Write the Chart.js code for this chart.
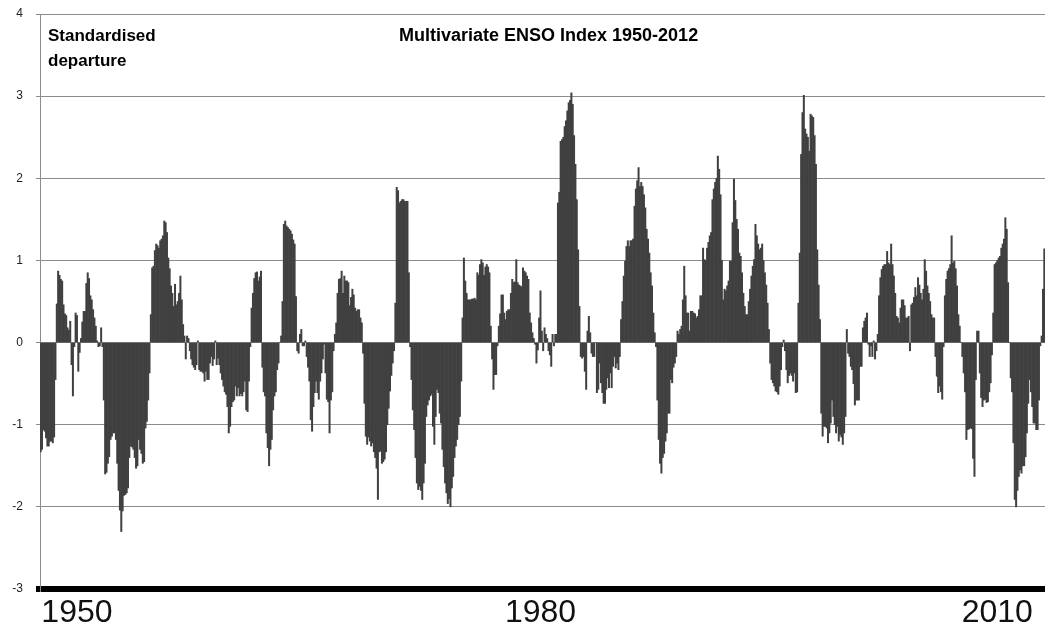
<!DOCTYPE html>
<html>
<head>
<meta charset="utf-8">
<title>Multivariate ENSO Index 1950-2012</title>
<script src="https://cdn.jsdelivr.net/npm/chart.js@4.4.1/dist/chart.umd.min.js"></script>
<style>
  html, body { margin: 0; padding: 0; background: #fff; }
  #wrap { width: 1045px; height: 633px; }
</style>
</head>
<body>
<div id="wrap"><canvas id="meiChart"></canvas></div>
<script>
// monthly MEI, one row per year, starting January 1950
const startYear = 1950;

const mei1950s = [
  -1.33, -1.30, -1.06, -1.08, -1.16, -1.26, -1.26, -1.20, -1.20, -1.22, -1.15, -0.45,
   0.47,  0.87,  0.82,  0.77,  0.75,  0.46,  0.35,  0.33,  0.18,  0.15,  0.26, -0.27,
  -0.65, -0.05,  0.36,  0.33, -0.35, -0.12,  0.05,  0.25,  0.38,  0.38,  0.72,  0.85,
   0.78,  0.57,  0.52,  0.40,  0.30,  0.20,  0.02, -0.05, -0.04,  0.18, -0.05, -0.70,
  -1.60, -1.58, -1.47, -1.39, -1.18, -1.14, -1.10, -1.10, -1.18, -1.47, -1.80, -2.04,
  -2.30, -2.05, -1.86, -1.85, -1.83, -1.77, -1.40, -1.26, -1.27, -1.30, -1.40, -1.53,
  -1.50, -1.18, -1.30, -1.35, -1.47, -1.45, -1.04, -0.96, -0.70, -0.37,  0.34,  0.91,
   0.93,  1.12,  1.20,  1.18,  1.15,  1.24,  1.26,  1.30,  1.48,  1.46,  1.34,  1.03,
   0.90,  0.69,  0.60,  0.44,  0.71,  0.46,  0.50,  0.60,  0.81,  0.52,  0.22,  0.08,
  -0.20,  0.08,  0.05, -0.10, -0.20, -0.27, -0.30, -0.33, -0.27,  0.02, -0.33, -0.35
];

const mei1960s = [
  -0.35, -0.37, -0.47, -0.35, -0.45, -0.45, -0.25, -0.17, -0.28, -0.20,  0.02, -0.27,
  -0.19, -0.27, -0.37, -0.45, -0.53, -0.60, -0.63, -0.78, -1.10, -1.02, -0.78, -0.72,
  -0.70, -0.53, -0.65, -0.55, -0.65, -0.62, -0.65, -0.60, -0.47, -0.82, -0.84, -0.47,
  -0.05,  0.42,  0.60,  0.78,  0.85,  0.86,  0.75,  0.80,  0.87, -0.30, -0.60, -0.65,
  -1.10, -1.28, -1.50, -1.30, -1.18, -0.82, -0.65, -0.60, -0.33, -0.25,  0.00,  0.08,
   0.50,  1.44,  1.48,  1.42,  1.40,  1.38,  1.36,  1.32,  1.25,  1.20,  0.56, -0.10,
  -0.13,  0.10,  0.16, -0.04, -0.04,  0.02, -0.17, -0.30, -0.47, -0.94, -1.08, -0.78,
  -0.61, -0.47, -0.61, -0.69, -0.47, -0.37, -0.20, -0.02, -0.37, -0.69, -0.72, -1.10,
  -0.70, -0.60, -0.10,  0.10,  0.24,  0.60,  0.77,  0.78,  0.87,  0.60,  0.81,  0.75,
   0.75,  0.73,  0.45,  0.55,  0.65,  0.58,  0.42,  0.38,  0.40,  0.40,  0.30,  0.24
];

const mei1970s = [
  -0.13, -0.74, -1.14, -1.24, -1.15, -1.20, -1.26, -1.22, -1.33, -1.40, -1.53, -1.91,
  -1.33, -1.32, -1.47, -1.45, -1.42, -1.33, -1.00, -0.80, -0.59, -0.40, -0.25, -0.10,
   0.48,  1.89,  1.85,  1.70,  1.72,  1.74,  1.74,  1.72,  1.72,  1.72,  0.85, -0.05,
  -0.45, -0.82, -1.06, -1.40, -1.71, -1.79, -1.75, -1.80, -1.91, -1.71, -1.47, -0.90,
  -0.76, -0.70, -0.65, -0.63, -1.02, -1.24, -0.90, -0.57, -0.61, -0.86, -0.98, -1.30,
  -1.51, -1.71, -1.83, -1.96, -1.90, -2.00, -1.77, -1.63, -1.40, -1.26, -1.18, -1.00,
  -0.90, -0.47,  0.30,  1.03,  0.75,  0.60,  0.52,  0.52,  0.52,  0.53,  0.53,  0.54,
   0.52,  0.85,  0.82,  0.95,  1.01,  0.97,  0.82,  0.92,  0.95,  0.92,  0.85,  0.20,
  -0.20, -0.57, -0.39, -0.39, -0.04,  0.20,  0.35,  0.58,  0.58,  0.36,  0.28,  0.38,
   0.40,  0.40,  0.60,  0.77,  0.73,  0.74,  1.01,  0.73,  0.70,  0.69,  0.68,  0.91
];

const mei1980s = [
   0.87,  0.85,  0.81,  0.77,  0.36,  0.24,  0.12,  0.05, -0.02, -0.25, -0.09,  0.30,
   0.63,  0.14, -0.10,  0.18,  0.10,  0.05, -0.10, -0.15, -0.29,  0.10, -0.04,  0.10,
   0.10,  1.70,  1.83,  2.45,  2.47,  2.50,  2.63,  2.70,  2.82,  2.92,  2.95,  3.04,
   2.90,  2.52,  2.17,  1.74,  1.13,  0.44, -0.17, -0.19, -0.17, -0.35, -0.57,  0.14,
   0.32,  0.12, -0.13, -0.17, -0.17,  0.00, -0.61, -0.57, -0.25, -0.49, -0.61, -0.74,
  -0.74, -0.57, -0.43, -0.55, -0.37, -0.55, -0.29, -0.17, -0.31, -0.25, -0.33, -0.17,
   0.28,  0.50,  0.81,  0.99,  1.17,  1.24,  1.17,  1.24,  1.24,  1.26,  1.66,  1.87,
   1.97,  2.13,  1.90,  1.95,  1.90,  1.80,  1.64,  1.38,  1.26,  1.09,  0.85,  0.69,
   0.36,  0.12, -0.05, -0.70, -1.18, -1.47, -1.59, -1.40, -1.35, -1.20, -1.10, -0.86,
  -0.86, -0.45, -0.49, -0.30, -0.25, -0.17,  0.14,  0.10,  0.16,  0.20,  0.52,  0.93
];

const mei1990s = [
   0.57,  0.36,  0.36,  0.14,  0.38,  0.38,  0.36,  0.35,  0.30,  0.32,  0.40,  0.57,
   0.57,  1.15,  1.01,  1.00,  1.15,  1.22,  1.30,  1.34,  1.74,  1.87,  1.95,  2.00,
   2.27,  2.11,  1.80,  1.00,  0.52,  0.65,  0.63,  0.69,  0.75,  0.99,  0.99,  1.46,
   1.99,  1.73,  1.50,  1.38,  1.09,  1.05,  0.85,  0.60,  0.44,  0.34,  0.34,  0.50,
   0.65,  0.81,  0.93,  1.01,  1.44,  1.30,  1.20,  1.13,  1.15,  1.20,  1.00,  0.85,
   0.70,  0.48,  0.16, -0.25, -0.45, -0.49, -0.53, -0.59, -0.60, -0.63, -0.53, -0.33,
  -0.05,  0.03, -0.10, -0.33, -0.49, -0.40, -0.37, -0.40, -0.47, -0.37, -0.61, -0.60,
   0.48,  1.09,  2.29,  2.80,  3.01,  2.60,  2.54,  2.50,  2.33,  2.78,  2.76,  2.74,
   2.52,  2.17,  1.13,  0.70,  0.28, -0.86, -1.14, -1.02, -1.02, -1.04, -1.22, -1.10,
  -0.98, -0.70, -0.90, -1.00, -1.10, -1.02, -1.20, -1.12, -1.15, -1.24, -1.10, -0.90
];

const mei2000s = [
   0.16, -0.13, -0.17, -0.29, -0.33, -0.50, -0.76, -0.70, -0.70, -0.70, -0.29, -0.29,
   0.18,  0.26,  0.30,  0.36, -0.02, -0.17, -0.04, -0.17,  0.02, -0.20, -0.10,  0.10,
   0.57,  0.79,  0.89,  0.93,  0.95,  0.95,  1.11,  0.97,  0.95,  1.20,  0.95,  0.81,
   0.60,  0.32,  0.30,  0.24,  0.42,  0.52,  0.52,  0.45,  0.30,  0.30,  0.32, -0.10,
   0.46,  0.48,  0.55,  0.67,  0.57,  0.79,  0.70,  0.60,  0.52,  0.65,  1.01,  0.87,
   0.69,  0.60,  0.50,  0.34,  0.30,  0.30, -0.17, -0.41, -0.61, -0.53, -0.60, -0.69,
  -0.05,  0.57,  0.77,  0.87,  0.90,  0.95,  1.30,  0.97,  0.99,  0.90,  0.69,  0.34,
   0.20,  0.00, -0.17, -0.37, -0.60, -1.18, -1.06, -1.05, -1.04, -1.05, -1.41, -1.63,
  -0.45,  0.14,  0.14, -0.37, -0.67, -0.78, -0.70, -0.69, -0.73, -0.72, -0.60, -0.49,
  -0.15,  0.36,  0.95,  0.97,  1.00,  1.03,  1.05,  1.15,  1.20,  1.26,  1.52,  1.38
];

const mei2010s = [
   0.73,  0.00, -0.43, -0.60, -1.22, -1.91, -2.00, -1.80, -1.63, -1.55, -1.59, -1.50,
  -1.50, -1.39, -1.10, -0.74, -0.45, -0.60, -0.78, -0.98, -0.98, -1.06, -1.06, -0.70,
  -0.04,  0.08,  0.65,  1.14
];

// axis text
const yearTickText = ['1950', '1980', '2010'];
const yearTickIndex = [27, 372, 712];

const meiValues = [].concat(mei1950s, mei1960s, mei1970s, mei1980s, mei1990s, mei2000s, mei2010s);
const monthLabels = meiValues.map((v, i) => {
  const yr = startYear + Math.floor(i / 12);
  const mo = (i % 12) + 1;
  return yr + '-' + (mo < 10 ? '0' + mo : mo);
});

const headingText = {
  id: 'headingText',
  afterDraw(chart) {
    const ctx = chart.ctx;
    ctx.save();
    ctx.fillStyle = '#000';
    ctx.textAlign = 'left';
    ctx.textBaseline = 'alphabetic';
    ctx.font = 'bold 17px "Liberation Sans", Arial, sans-serif';
    ctx.fillText('Standardised', 48, 41);
    ctx.fillText('departure', 48, 66);
    ctx.font = 'bold 18px "Liberation Sans", Arial, sans-serif';
    ctx.fillText('Multivariate ENSO Index 1950-2012', 399, 41);
    ctx.restore();
  }
};

new Chart(document.getElementById('meiChart'), {
  type: 'bar',
  data: {
    labels: monthLabels,
    datasets: [{
      data: meiValues,
      backgroundColor: '#404040',
      borderWidth: 0,
      barPercentage: 1,
      categoryPercentage: 1
    }]
  },
  plugins: [headingText],
  options: {
    responsive: true,
    maintainAspectRatio: false,
    animation: false,
    layout: {
      padding: { top: 14, right: 0, bottom: 0, left: 0 }
    },
    plugins: {
      legend: { display: false },
      tooltip: { enabled: false }
    },
    scales: {
      x: {
        grid: { display: false, drawTicks: false },
        border: { display: false },
        ticks: {
          autoSkip: false,
          maxRotation: 0,
          minRotation: 0,
          padding: 5,
          color: '#111',
          font: { family: '"Liberation Sans", sans-serif', size: 32 },
          callback: (v, i) => {
            const k = yearTickIndex.indexOf(i);
            return k < 0 ? '' : yearTickText[k];
          }
        },
        afterFit: (scale) => {
          scale.height = 44;
          scale.paddingLeft = 0;
          scale.paddingRight = 0;
        }
      },
      y: {
        min: -3,
        max: 4,
        ticks: {
          stepSize: 1,
          padding: 13,
          color: '#222',
          font: { family: '"Liberation Sans", Arial, sans-serif', size: 12 }
        },
        grid: {
          color: (c) => (c.tick && c.tick.value === -3 ? '#000' : '#8c8c8c'),
          lineWidth: (c) => (c.tick && c.tick.value === -3 ? 6 : 1),
          tickLength: 4
        },
        border: { color: '#8c8c8c', width: 1 },
        afterFit: (scale) => {
          scale.width = 40;
          scale.paddingTop = 0;
          scale.paddingBottom = 0;
        }
      }
    }
  }
});
</script>
</body>
</html>
